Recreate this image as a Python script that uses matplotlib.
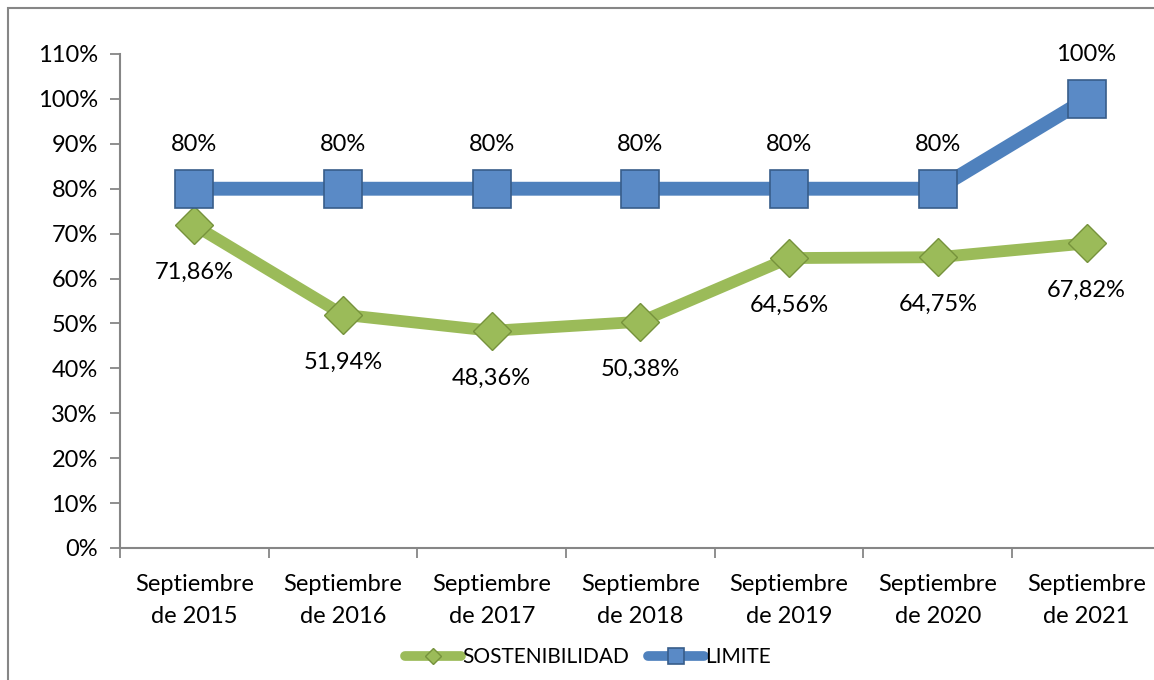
import matplotlib
matplotlib.use("Agg")
import matplotlib.pyplot as plt
from matplotlib.patches import Rectangle
from matplotlib.ticker import FuncFormatter, FixedLocator

# chart data
periods = ["Septiembre\nde 2015", "Septiembre\nde 2016", "Septiembre\nde 2017",
           "Septiembre\nde 2018", "Septiembre\nde 2019", "Septiembre\nde 2020",
           "Septiembre\nde 2021"]
sostenibilidad = [71.86, 51.94, 48.36, 50.38, 64.56, 64.75, 67.82]
limite = [80, 80, 80, 80, 80, 80, 100]
sost_labels = ["71,86%", "51,94%", "48,36%", "50,38%", "64,56%", "64,75%", "67,82%"]
lim_labels = ["80%", "80%", "80%", "80%", "80%", "80%", "100%"]

GREEN = "#9BBB59"
BLUE = "#4F81BD"
AXIS_GRAY = "#868686"
FS = 17

plt.rcParams["font.family"] = ["Lato", "DejaVu Sans"]

W, H = 1154, 680
fig = plt.figure(figsize=(W / 100, H / 100), dpi=100)

# outer chart frame, runs off the right and bottom edges
fig.patches.append(Rectangle((8 / W, -0.1), 1.2, (H - 8) / H + 0.1,
                             transform=fig.transFigure, fill=False,
                             edgecolor=AXIS_GRAY, linewidth=1.5))

# plot area: x from 120px, 7 slots of ~148.7px, y from 548px (0%) to 54px (110%)
ax = fig.add_axes([120 / W, (H - 548) / H, 7 * 148.7 / W, (548 - 54) / H])

x = list(range(len(periods)))

ax.plot(x, sostenibilidad, color=GREEN, linewidth=8.5, solid_capstyle="round",
        marker="D", markersize=19, markerfacecolor=GREEN,
        markeredgecolor="#76923C", markeredgewidth=1, label="SOSTENIBILIDAD",
        zorder=3)
ax.plot(x, limite, color=BLUE, linewidth=10, solid_capstyle="round",
        marker="s", markersize=27, markerfacecolor="#5A8AC6",
        markeredgecolor="#385D8A", markeredgewidth=1.2, label="LIMITE",
        zorder=4)

for xi, v, t in zip(x, sostenibilidad, sost_labels):
    ax.annotate(t, (xi, v), xytext=(0, -34), textcoords="offset points",
                ha="center", va="center", fontsize=FS, color="black")
for xi, v, t in zip(x, limite, lim_labels):
    ax.annotate(t, (xi, v), xytext=(0, 32), textcoords="offset points",
                ha="center", va="center", fontsize=FS, color="black")

ax.set_xlim(-0.5, len(periods) - 0.5)
ax.set_ylim(0, 110)
ax.yaxis.set_major_locator(FixedLocator(range(0, 111, 10)))
ax.yaxis.set_major_formatter(FuncFormatter(lambda v, p: f"{int(v)}%"))

ax.set_xticks(x)
ax.set_xticklabels(periods, fontsize=FS, linespacing=1.6)
ax.xaxis.set_minor_locator(FixedLocator([i - 0.5 for i in range(len(periods) + 1)]))
ax.tick_params(axis="x", which="major", length=0, pad=19)
ax.tick_params(axis="x", which="minor", length=7, width=1.3, color=AXIS_GRAY, direction="out")
ax.tick_params(axis="y", length=7, width=1.3, color=AXIS_GRAY, labelsize=FS, pad=9)

for side in ["top", "right"]:
    ax.spines[side].set_visible(False)
for side in ["left", "bottom"]:
    ax.spines[side].set_color(AXIS_GRAY)
    ax.spines[side].set_linewidth(1.5)

leg = fig.legend(loc="center", bbox_to_anchor=(588 / W, (H - 657) / H),
                 ncol=2, frameon=False, fontsize=15, handlelength=2.7,
                 handletextpad=0.05, columnspacing=0.9, markerscale=0.45)
for line in leg.get_lines():
    line.set_linewidth(7)

fig.savefig("out.png", dpi=100)
